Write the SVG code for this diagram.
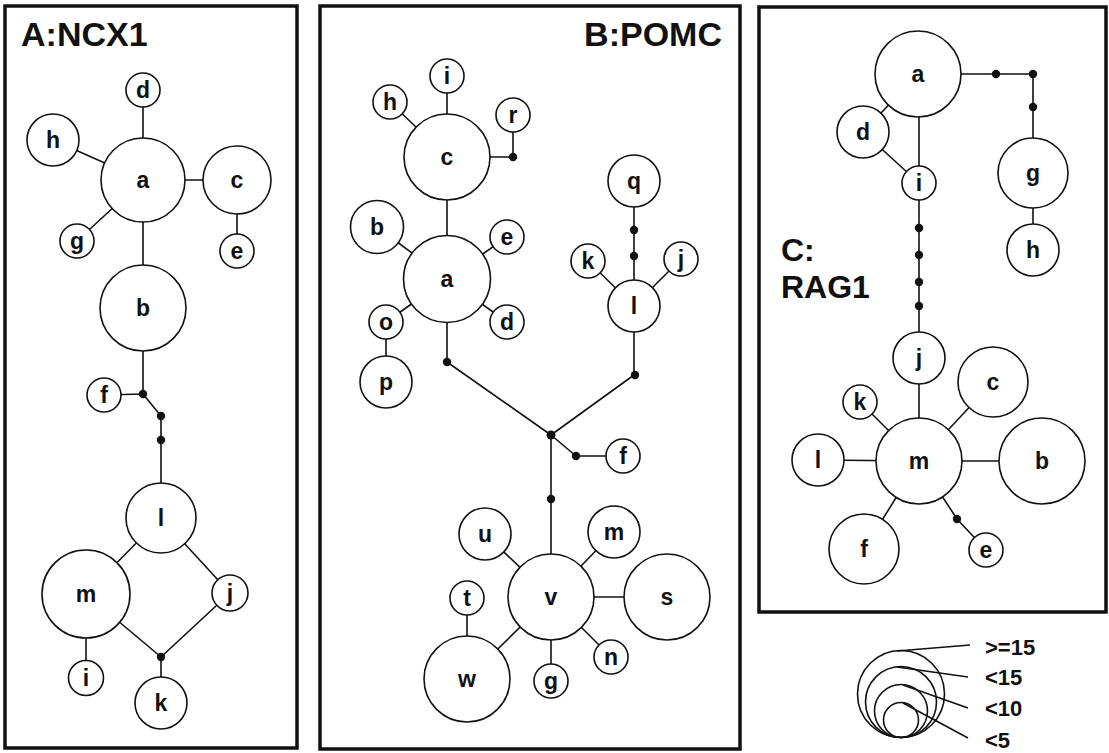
<svg xmlns="http://www.w3.org/2000/svg" width="1109" height="753" viewBox="0 0 1109 753">
<style>
.panel{fill:none;stroke:#111;stroke-width:3.5}
.title{font-family:"Liberation Sans",Arial,sans-serif;font-weight:bold;font-size:34px;fill:#111}
.n circle{fill:#fff;stroke:#111;stroke-width:1.6}
.n text{font-family:"Liberation Sans",Arial,sans-serif;font-weight:bold;font-size:23px;fill:#111;text-anchor:middle}
.e line,.e polyline{stroke:#111;stroke-width:1.6;fill:none}
.dot{fill:#111}
.leg circle{fill:none;stroke:#111;stroke-width:1.6}
.leg line{stroke:#111;stroke-width:1.6}
.leg text{font-family:"Liberation Sans",Arial,sans-serif;font-weight:bold;font-size:22px;fill:#111}
</style>
<rect width="1109" height="753" fill="#fff"/>
<rect class="panel" x="5" y="6" width="292" height="742"/>
<rect class="panel" x="320" y="6" width="420" height="743"/>
<rect class="panel" x="759" y="7" width="347" height="605"/>
<text class="title" x="21" y="46">A:NCX1</text>
<text class="title" x="722" y="46" text-anchor="end">B:POMC</text>
<text class="title" x="781" y="261" style="font-size:32px">C:</text>
<text class="title" x="781" y="298" style="font-size:32px">RAG1</text>

<g id="connectors" class="e">
<!-- A -->
<line x1="143" y1="180" x2="143" y2="90"/>
<line x1="143" y1="180" x2="53" y2="140"/>
<line x1="143" y1="180" x2="77" y2="241"/>
<line x1="143" y1="180" x2="237" y2="180"/>
<line x1="237" y1="180" x2="237" y2="251"/>
<line x1="143" y1="180" x2="143" y2="308"/>
<polyline points="143,308 143,394 161,416 161,440 161,518"/>
<line x1="143" y1="394" x2="104" y2="395"/>
<line x1="161" y1="518" x2="86" y2="594"/>
<line x1="161" y1="518" x2="230" y2="593"/>
<line x1="86" y1="594" x2="161" y2="657"/>
<line x1="230" y1="593" x2="161" y2="657"/>
<line x1="161" y1="657" x2="161" y2="703"/>
<line x1="86" y1="594" x2="86" y2="678"/>
<!-- B -->
<line x1="447" y1="157" x2="447" y2="76"/>
<line x1="447" y1="157" x2="390" y2="102"/>
<polyline points="447,157 513,157 513,115"/>
<line x1="447" y1="157" x2="447" y2="279"/>
<line x1="447" y1="279" x2="377" y2="227"/>
<line x1="447" y1="279" x2="507" y2="237"/>
<line x1="447" y1="279" x2="507" y2="322"/>
<line x1="447" y1="279" x2="386" y2="322"/>
<line x1="386" y1="322" x2="386" y2="382"/>
<polyline points="447,279 447,362 551,435"/>
<polyline points="634,181 634,375 551,435"/>
<line x1="634" y1="306" x2="588" y2="261"/>
<line x1="634" y1="306" x2="681" y2="259"/>
<polyline points="551,435 576,456 623,456"/>
<line x1="551" y1="435" x2="551" y2="597"/>
<line x1="551" y1="597" x2="485" y2="534"/>
<line x1="551" y1="597" x2="614" y2="532"/>
<line x1="551" y1="597" x2="667" y2="597"/>
<line x1="551" y1="597" x2="611" y2="657"/>
<line x1="551" y1="597" x2="551" y2="681"/>
<line x1="551" y1="597" x2="467" y2="679"/>
<line x1="467" y1="679" x2="467" y2="598"/>
<!-- C -->
<line x1="918" y1="74" x2="863" y2="132"/>
<line x1="863" y1="132" x2="919" y2="183"/>
<line x1="919" y1="74" x2="919" y2="358"/>
<polyline points="918,74 1033,74 1033,173"/>
<line x1="1033" y1="173" x2="1033" y2="250"/>
<line x1="919" y1="358" x2="919" y2="461"/>
<line x1="919" y1="461" x2="860" y2="402"/>
<line x1="919" y1="461" x2="993" y2="382"/>
<line x1="919" y1="461" x2="818" y2="460"/>
<line x1="919" y1="461" x2="1042" y2="461"/>
<line x1="919" y1="461" x2="864" y2="549"/>
<polyline points="919,461 957,519 986,550"/>
</g>

<g id="dots" class="dot">
<circle cx="143" cy="394" r="4.2"/>
<circle cx="161" cy="416" r="4.2"/>
<circle cx="161" cy="440" r="4.2"/>
<circle cx="161" cy="657" r="4.2"/>
<circle cx="513" cy="157" r="4.2"/>
<circle cx="447" cy="362" r="4.2"/>
<circle cx="634" cy="230" r="4.2"/>
<circle cx="634" cy="256" r="4.2"/>
<circle cx="635" cy="375" r="4.2"/>
<circle cx="551" cy="435" r="4.5"/>
<circle cx="576" cy="456" r="4.2"/>
<circle cx="551" cy="499" r="4.2"/>
<circle cx="996" cy="74" r="4.2"/>
<circle cx="1033" cy="74" r="4.2"/>
<circle cx="1033" cy="107" r="4.2"/>
<circle cx="919" cy="228" r="4.2"/>
<circle cx="919" cy="255" r="4.2"/>
<circle cx="919" cy="282" r="4.2"/>
<circle cx="919" cy="306" r="4.2"/>
<circle cx="957" cy="519" r="4.2"/>
</g>

<!-- Panel A nodes -->
<g id="A-a" class="n"><circle cx="143" cy="180" r="42"/><text x="143" y="188">a</text></g>
<g id="A-d" class="n"><circle cx="143" cy="90" r="17"/><text x="143" y="98">d</text></g>
<g id="A-h" class="n"><circle cx="53" cy="140" r="26"/><text x="53" y="148">h</text></g>
<g id="A-c" class="n"><circle cx="237" cy="180" r="34"/><text x="237" y="188">c</text></g>
<g id="A-e" class="n"><circle cx="237" cy="251" r="17"/><text x="237" y="259">e</text></g>
<g id="A-g" class="n"><circle cx="77" cy="241" r="17"/><text x="77" y="249">g</text></g>
<g id="A-b" class="n"><circle cx="143" cy="308" r="43"/><text x="143" y="316">b</text></g>
<g id="A-f" class="n"><circle cx="104" cy="395" r="17"/><text x="104" y="403">f</text></g>
<g id="A-l" class="n"><circle cx="161" cy="518" r="35"/><text x="161" y="526">l</text></g>
<g id="A-m" class="n"><circle cx="86" cy="594" r="44"/><text x="86" y="602">m</text></g>
<g id="A-j" class="n"><circle cx="230" cy="593" r="18"/><text x="230" y="601">j</text></g>
<g id="A-i" class="n"><circle cx="86" cy="678" r="17.5"/><text x="86" y="686">i</text></g>
<g id="A-k" class="n"><circle cx="161" cy="703" r="26"/><text x="161" y="711">k</text></g>

<!-- Panel B nodes -->
<g id="B-c" class="n"><circle cx="447" cy="157" r="43"/><text x="447" y="165">c</text></g>
<g id="B-i" class="n"><circle cx="447" cy="76" r="17"/><text x="447" y="84">i</text></g>
<g id="B-h" class="n"><circle cx="390" cy="102" r="17"/><text x="390" y="110">h</text></g>
<g id="B-r" class="n"><circle cx="513" cy="115" r="17"/><text x="513" y="123">r</text></g>
<g id="B-a" class="n"><circle cx="447" cy="279" r="43.5"/><text x="447" y="287">a</text></g>
<g id="B-b" class="n"><circle cx="377" cy="227" r="26.5"/><text x="377" y="235">b</text></g>
<g id="B-e" class="n"><circle cx="507" cy="237" r="17"/><text x="507" y="245">e</text></g>
<g id="B-d" class="n"><circle cx="507" cy="322" r="17"/><text x="507" y="330">d</text></g>
<g id="B-o" class="n"><circle cx="386" cy="322" r="17"/><text x="386" y="330">o</text></g>
<g id="B-p" class="n"><circle cx="386" cy="382" r="26"/><text x="386" y="390">p</text></g>
<g id="B-q" class="n"><circle cx="634" cy="181" r="26"/><text x="634" y="189">q</text></g>
<g id="B-l" class="n"><circle cx="634" cy="306" r="26"/><text x="634" y="314">l</text></g>
<g id="B-k" class="n"><circle cx="588" cy="261" r="17"/><text x="588" y="269">k</text></g>
<g id="B-j" class="n"><circle cx="681" cy="259" r="17"/><text x="681" y="267">j</text></g>
<g id="B-f" class="n"><circle cx="623" cy="456" r="17"/><text x="623" y="464">f</text></g>
<g id="B-v" class="n"><circle cx="551" cy="597" r="43"/><text x="551" y="605">v</text></g>
<g id="B-u" class="n"><circle cx="485" cy="534" r="26"/><text x="485" y="542">u</text></g>
<g id="B-m" class="n"><circle cx="614" cy="532" r="26"/><text x="614" y="540">m</text></g>
<g id="B-s" class="n"><circle cx="667" cy="597" r="43"/><text x="667" y="605">s</text></g>
<g id="B-t" class="n"><circle cx="467" cy="598" r="17"/><text x="467" y="606">t</text></g>
<g id="B-w" class="n"><circle cx="467" cy="679" r="43"/><text x="467" y="687">w</text></g>
<g id="B-g" class="n"><circle cx="551" cy="681" r="17"/><text x="551" y="689">g</text></g>
<g id="B-n" class="n"><circle cx="611" cy="657" r="17"/><text x="611" y="665">n</text></g>

<!-- Panel C nodes -->
<g id="C-a" class="n"><circle cx="918" cy="74" r="43"/><text x="918" y="82">a</text></g>
<g id="C-d" class="n"><circle cx="863" cy="132" r="26"/><text x="863" y="140">d</text></g>
<g id="C-i" class="n"><circle cx="919" cy="183" r="17"/><text x="919" y="191">i</text></g>
<g id="C-g" class="n"><circle cx="1033" cy="173" r="35"/><text x="1033" y="181">g</text></g>
<g id="C-h" class="n"><circle cx="1033" cy="250" r="26"/><text x="1033" y="258">h</text></g>
<g id="C-j" class="n"><circle cx="919" cy="358" r="26"/><text x="919" y="366">j</text></g>
<g id="C-m" class="n"><circle cx="919" cy="461" r="43"/><text x="919" y="469">m</text></g>
<g id="C-k" class="n"><circle cx="860" cy="402" r="17"/><text x="860" y="410">k</text></g>
<g id="C-c" class="n"><circle cx="993" cy="382" r="35"/><text x="993" y="390">c</text></g>
<g id="C-l" class="n"><circle cx="818" cy="460" r="26"/><text x="818" y="468">l</text></g>
<g id="C-b" class="n"><circle cx="1042" cy="461" r="43"/><text x="1042" y="469">b</text></g>
<g id="C-f" class="n"><circle cx="864" cy="549" r="35"/><text x="864" y="557">f</text></g>
<g id="C-e" class="n"><circle cx="986" cy="550" r="17"/><text x="986" y="558">e</text></g>

<!-- Legend -->
<g id="legend" class="leg">
<circle cx="901" cy="694" r="43.5"/>
<circle cx="901" cy="702" r="35.5"/>
<circle cx="901" cy="711" r="26.5"/>
<circle cx="901" cy="720" r="17.5"/>
<line x1="897" y1="651" x2="970" y2="645"/>
<line x1="897" y1="667" x2="968" y2="677"/>
<line x1="903" y1="685" x2="968" y2="708"/>
<line x1="903" y1="703" x2="968" y2="738"/>
<text x="985" y="655">&gt;=15</text>
<text x="985" y="685">&lt;15</text>
<text x="985" y="716">&lt;10</text>
<text x="985" y="748">&lt;5</text>
</g>
</svg>
